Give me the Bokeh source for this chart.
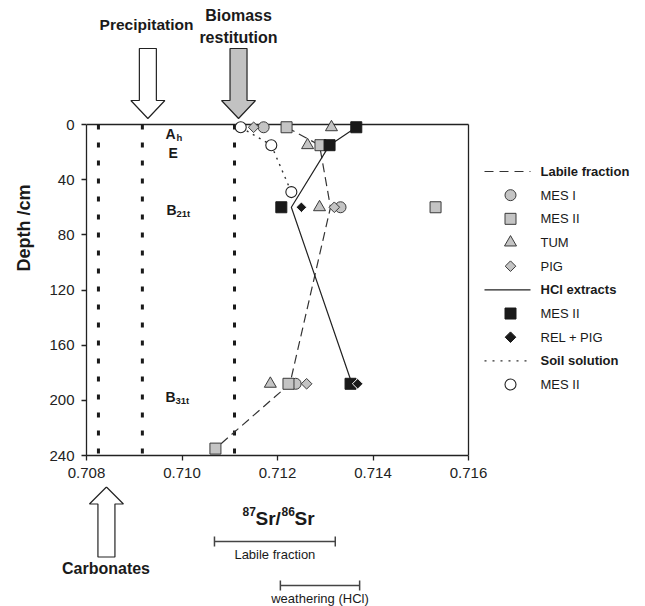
import numpy as np
from bokeh.plotting import figure
from bokeh.layouts import column
from bokeh.models import Range1d, FixedTicker, PrintfTickFormatter
from bokeh.core.properties import value
from bokeh.embed import file_html
from bokeh.resources import INLINE

# ------------------------------------------------------------------ data
# Labile fraction
mes1_lab_sr = [0.71171, 0.71332, 0.71238]
mes1_lab_depth = [2, 60, 188]
mes2_lab_sr = [0.71219, 0.71290, 0.71531, 0.71223, 0.71070]
mes2_lab_depth = [2, 15, 60, 188, 235]
tum_lab_sr = [0.71313, 0.71263, 0.71288, 0.71185]
tum_lab_depth = [2, 15, 60, 188]
pig_lab_sr = [0.71150, 0.71319, 0.71261]
pig_lab_depth = [2, 60, 188]
labile_line_sr = [0.71219, 0.71288, 0.71311, 0.71226, 0.71070]
labile_line_depth = [2, 15, 60, 188, 235]
# HCl extracts
mes2_hcl_sr = [0.71365, 0.71309, 0.71208, 0.71353]
mes2_hcl_depth = [2, 15, 60, 188]
relpig_hcl_sr = [0.71250, 0.71368]
relpig_hcl_depth = [60, 188]
hcl_line_sr = [0.71365, 0.71309, 0.71229, 0.71356]
hcl_line_depth = [2, 15, 60, 188]
# Soil solution
mes2_sol_sr = [0.71123, 0.71187, 0.71229]
mes2_sol_depth = [2, 15, 49]
# end members: carbonates, precipitation, biomass restitution
endmember_sr = [0.70825, 0.70917, 0.71110]
endmember_names = ["Carbonates", "Precipitation", "Biomass restitution"]
# ranges shown below the axis
labile_range = [0.71068, 0.71321]
weathering_range = [0.71206, 0.71372]
range_labels = ["Labile fraction", "weathering (HCl)"]
# horizons
horizon_main = ["A", "E", "B", "B"]
horizon_sub = ["h", "", "21t", "31t"]
# axes
x_ticks = [0.708, 0.710, 0.712, 0.714, 0.716]
y_ticks = [0, 40, 80, 120, 160, 200, 240]
legend_labels = ["Labile fraction", "MES I", "MES II", "TUM", "PIG",
                 "HCl extracts", "MES II", "REL + PIG", "Soil solution", "MES II"]

# ------------------------------------------------------------------ layout
W, HTOT = 645, 606
LEFT, TOP = 86, 124
AXW, AXH = 382, 331
X0, X1 = 0.708, 0.716
D0, D1 = 0, 240
PPX = AXW / (X1 - X0)
PPD = AXH / (D1 - D0)
H1 = 486
H2 = HTOT - H1
FONT = value("Liberation Sans")
INK = "#1a1a1a"
GRAYF = "#c4c4c4"
EDGE = "#3a3a3a"


def px2x(px):
    return X0 + (px - LEFT) / PPX


def py2d(py):
    return (py - TOP) / PPD


xr = Range1d(X0, px2x(W))
p = figure(width=W, height=H1, x_range=xr, y_range=Range1d(D1, py2d(0)),
           output_backend="svg", toolbar_location=None,
           min_border_left=LEFT, min_border_right=0, min_border_top=0,
           min_border_bottom=H1 - (TOP + AXH))
p.frame_align = False
p.outline_line_color = None
p.grid.visible = False
p.background_fill_color = "white"
p.border_fill_color = "white"

p.xaxis.bounds = (X0, X1)
p.xaxis.ticker = FixedTicker(ticks=x_ticks)
p.xaxis.formatter = PrintfTickFormatter(format="%.3f")
p.yaxis.bounds = (D0, D1)
p.yaxis.ticker = FixedTicker(ticks=y_ticks)
p.yaxis.axis_label = "Depth /cm"
p.yaxis.axis_label_text_font = "Liberation Sans"
p.yaxis.axis_label_text_font_size = "18px"
p.yaxis.axis_label_text_font_style = "bold"
p.yaxis.axis_label_text_color = INK
p.yaxis.axis_label_standoff = 12
for ax in p.axis:
    ax.major_tick_in = 0
    ax.major_tick_out = 5
    ax.minor_tick_line_color = None
    ax.major_label_text_font = "Liberation Sans"
    ax.major_label_text_font_size = "15px"
    ax.major_label_text_color = "#222"
    ax.major_label_standoff = 7
    ax.axis_line_color = "#222"
    ax.axis_line_width = 1.3
    ax.major_tick_line_color = "#222"
    ax.major_tick_line_width = 1.3

# frame (top and right)
p.segment(x0=[X0, X1], y0=[D0, D0], x1=[X1, X1], y1=[D0, D1],
          line_color="#222", line_width=1.3)

# end-member lines
p.segment(x0=endmember_sr, y0=[D0] * 3, x1=endmember_sr, y1=[D1] * 3,
          line_color=INK, line_width=3, line_dash="5 13")


def arrow(cx, tip):
    # shape in pixels: tip at 0, body extends 70 px above it
    dxs = [-8.5, 8.5, 8.5, 17, 0, -17, -8.5]
    dys = [-70, -70, -18, -18, 0, -18, -18]
    xs = [cx + d / PPX for d in dxs]
    ys = [tip + d / PPD for d in dys]
    return xs, ys


# top arrows (precipitation, biomass)
xs, ys = arrow(endmember_sr[1] + 5.5 / PPX, py2d(118))
p.patch(xs, ys, fill_color="white", line_color="#222", line_width=1.2)
xs, ys = arrow(endmember_sr[2] + 4 / PPX, py2d(118))
p.patch(xs, ys, fill_color="#c2c2c2", line_color="#222", line_width=1.2)

p.text(x=[px2x(146)], y=[py2d(24)], text=["Precipitation"], text_font=FONT,
       text_font_size="15.5px", text_font_style="bold", text_align="center",
       text_baseline="middle", text_color=INK)
p.text(x=[px2x(238), px2x(238)], y=[py2d(15), py2d(37)], text=["Biomass", "restitution"],
       text_font=FONT, text_font_size="16px", text_font_style="bold",
       text_align="center", text_baseline="middle", text_color=INK)

# horizon labels
hx = [px2x(165), px2x(168), px2x(166), px2x(165)]
hy = [py2d(133), py2d(152), py2d(209), py2d(396)]
p.text(x=hx, y=hy, text=horizon_main, text_font=FONT, text_font_size="14px",
       text_font_style="bold", text_align="left", text_baseline="alphabetic", text_color=INK)
sx_ = [px2x(176), px2x(177), px2x(176), px2x(175)]
sy_ = [py2d(137), py2d(155), py2d(213), py2d(400)]
p.text(x=sx_, y=sy_, text=horizon_sub, text_font=FONT, text_font_size="9.5px",
       text_font_style="bold", text_align="left", text_baseline="alphabetic", text_color=INK)

# lines
p.line(labile_line_sr, labile_line_depth, line_color="#333", line_width=1.2, line_dash="9 5")
p.line(hcl_line_sr, hcl_line_depth, line_color="#222", line_width=1.2)
p.line(mes2_sol_sr, mes2_sol_depth, line_color="#333", line_width=1.4, line_dash="2 5")

# markers
gkw = dict(fill_color=GRAYF, line_color=EDGE, line_width=1)
p.scatter(mes1_lab_sr, mes1_lab_depth, marker="circle", size=11, **gkw)
p.scatter(tum_lab_sr, tum_lab_depth, marker="triangle", size=12, **gkw)
p.scatter(pig_lab_sr, pig_lab_depth, marker="square", angle=np.pi / 4, size=7.5, **gkw)
p.scatter(mes2_lab_sr, mes2_lab_depth, marker="square", size=11, **gkw)
p.scatter(mes2_sol_sr, mes2_sol_depth, marker="circle", size=11,
          fill_color="white", line_color="#222", line_width=1.1)
p.scatter(mes2_hcl_sr, mes2_hcl_depth, marker="square", size=11,
          fill_color=INK, line_color=INK)
p.scatter(relpig_hcl_sr, relpig_hcl_depth, marker="square", angle=np.pi / 4, size=7.5,
          fill_color=INK, line_color="white", line_width=1)

# legend (drawn to the right of the axes)
rows_py = [171 + i * 23.67 for i in range(len(legend_labels))]
rows = [py2d(v) for v in rows_py]
lx0, lx1, lxm, ltx = px2x(484), px2x(530), px2x(510), px2x(540)
p.line([lx0, lx1], [rows[0]] * 2, line_color="#333", line_width=1.2, line_dash="9 6")
p.line([lx0, lx1], [rows[5]] * 2, line_color="#222", line_width=1.2)
p.line([lx0, lx1], [rows[8]] * 2, line_color="#333", line_width=1.4, line_dash="2 6")
p.scatter([lxm], [rows[1]], marker="circle", size=11, **gkw)
p.scatter([lxm], [rows[2]], marker="square", size=11, **gkw)
p.scatter([lxm], [rows[3]], marker="triangle", size=12, **gkw)
p.scatter([lxm], [rows[4]], marker="square", angle=np.pi / 4, size=7.5, **gkw)
p.scatter([lxm], [rows[6]], marker="square", size=11, fill_color=INK, line_color=INK)
p.scatter([lxm], [rows[7]], marker="square", angle=np.pi / 4, size=7.5,
          fill_color=INK, line_color=INK)
p.scatter([lxm], [rows[9]], marker="circle", size=11, fill_color="white",
          line_color="#222", line_width=1.1)
head_idx = [0, 5, 8]
item_idx = [i for i in range(len(legend_labels)) if i not in head_idx]
p.text(x=[ltx] * len(head_idx), y=[rows[i] for i in head_idx],
       text=[legend_labels[i] for i in head_idx], text_font=FONT, text_font_size="13px",
       text_font_style="bold", text_align="left", text_baseline="middle", text_color=INK)
p.text(x=[ltx] * len(item_idx), y=[rows[i] for i in item_idx],
       text=[legend_labels[i] for i in item_idx], text_font=FONT, text_font_size="13px",
       text_align="left", text_baseline="middle", text_color=INK)

# ------------------------------------------------------------------ lower panel
xr2 = Range1d(px2x(0), px2x(W))
p2 = figure(width=W, height=H2, x_range=xr2, y_range=Range1d(HTOT, H1),
            x_axis_type=None, y_axis_type=None, output_backend="svg",
            toolbar_location=None, min_border_left=0, min_border_right=0,
            min_border_top=0, min_border_bottom=0)
p2.frame_align = False
p2.outline_line_color = None
p2.background_fill_color = "white"
p2.border_fill_color = "white"

# carbonates arrow (pointing up, y in pixel rows)
cdx = [-8.5, 8.5, 8.5, 17, 0, -17, -8.5]
cdy = [70, 70, 17, 17, 0, 17, 17]
ccx = endmember_sr[0] + 8 / PPX
p2.patch([ccx + d / PPX for d in cdx], [486.5 + d for d in cdy],
         fill_color="white", line_color="#222", line_width=1.2)
p2.text(x=[px2x(105.5)], y=[567.5], text=["Carbonates"], text_font=FONT,
        text_font_size="16px", text_font_style="bold", text_align="center",
        text_baseline="middle", text_color=INK)

# axis title 87Sr/86Sr
tkw = dict(text_font=FONT, text_font_style="bold", text_align="left",
           text_baseline="alphabetic", text_color=INK)
p2.text(x=[px2x(255), px2x(294)], y=[518, 518], text=["Sr/", "Sr"], text_font_size="19px", **tkw)
p2.text(x=[px2x(242), px2x(281)], y=[511, 511], text=["87", "86"], text_font_size="12px", **tkw)

# range bars
for rng, yb, lab, yl in [(labile_range, 541, range_labels[0], 554),
                         (weathering_range, 585, range_labels[1], 598)]:
    p2.segment(x0=[rng[0], rng[0], rng[1]], y0=[yb, yb - 5, yb - 5],
               x1=[rng[1], rng[0], rng[1]], y1=[yb, yb + 5, yb + 5],
               line_color="#444", line_width=1.5)
    p2.text(x=[(rng[0] + rng[1]) / 2], y=[yl], text=[lab], text_font=FONT,
            text_font_size="13px", text_align="center", text_baseline="middle",
            text_color=INK)

layout = column(p, p2, spacing=0)
open("out.html", "w").write(file_html(layout, INLINE))
